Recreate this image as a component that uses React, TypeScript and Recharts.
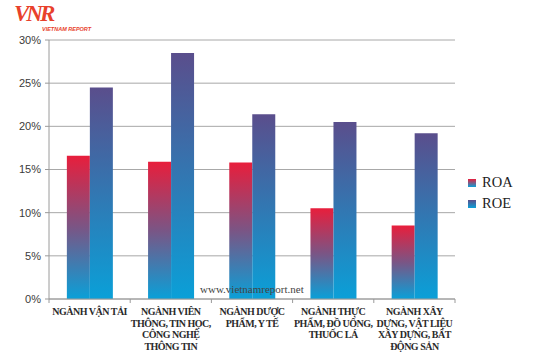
import { BarChart, Bar, XAxis, YAxis, CartesianGrid, Legend } from 'recharts';

// chart values (in %)
const categories = [
  'NGÀNH VẬN TẢI',
  'NGÀNH VIÊN\nTHÔNG, TIN HỌC,\nCÔNG NGHỆ\nTHÔNG TIN',
  'NGÀNH DƯỢC\nPHẨM, Y TẾ',
  'NGÀNH THỰC\nPHẨM, ĐỒ UỐNG,\nTHUỐC LÁ',
  'NGÀNH XÂY\nDỰNG, VẬT LIỆU\nXÂY DỰNG, BẤT\nĐỘNG SẢN'
];
const roa = [16.6, 15.9, 15.8, 10.5, 8.5];
const roe = [24.5, 28.5, 21.4, 20.5, 19.2];
const yTicks = [0, 5, 10, 15, 20, 25, 30];

const data = categories.map((name, i) => ({ name, ROA: roa[i], ROE: roe[i] }));

const W = 540;
const H = 360;
const MARGIN = { top: 40, right: 85, left: 0, bottom: 0 };
const Y_W = 49;
const X_H = 61;
const BAND = (W - MARGIN.right - Y_W) / categories.length;

const AXIS = '#9a9a9a';

function CategoryTick(props: any) {
  const { x, y, payload, index } = props;
  const lines = String(payload.value).split('\n');
  return (
    <g>
      <line x1={x - BAND / 2} y1={y} x2={x - BAND / 2} y2={y + 4} stroke={AXIS} />
      {index === categories.length - 1 && (
        <line x1={x + BAND / 2} y1={y} x2={x + BAND / 2} y2={y + 4} stroke={AXIS} />
      )}
      <text
        x={x}
        y={y + 16}
        textAnchor="middle"
        fill="#2b2b2b"
        fontFamily="'Liberation Serif', 'DejaVu Serif', serif"
        fontWeight="bold"
        fontSize={10}
        letterSpacing={-0.5}
      >
        {lines.map((l, i) => (
          <tspan key={i} x={x} dy={i === 0 ? 0 : 11.6}>
            {l}
          </tspan>
        ))}
      </text>
    </g>
  );
}

function LegendBox() {
  const items = [
    { name: 'ROA', grad: 'lgRoa', top: '#e81e3c', bot: '#0aa0d8' },
    { name: 'ROE', grad: 'lgRoe', top: '#5a4e8c', bot: '#0aa0d8' }
  ];
  return (
    <div style={{ fontFamily: "'Liberation Serif', serif", fontSize: 14.5, color: '#222' }}>
      {items.map((it) => (
        <div key={it.name} style={{ display: 'flex', alignItems: 'center', height: 21 }}>
          <svg width={8} height={8} style={{ marginRight: 6 }}>
            <defs>
              <linearGradient id={it.grad} x1="0" y1="0" x2="0" y2="1">
                <stop offset="0%" stopColor={it.top} />
                <stop offset="100%" stopColor={it.bot} />
              </linearGradient>
            </defs>
            <rect width={8} height={8} fill={`url(#${it.grad})`} />
          </svg>
          <span>{it.name}</span>
        </div>
      ))}
    </div>
  );
}

export default function App() {
  return (
    <div style={{ position: 'absolute', left: 0, top: 0, width: W, height: H, background: '#fff' }}>
      <BarChart width={W} height={H} data={data} margin={MARGIN} barCategoryGap="22%" barGap={0}>
        <defs>
          <linearGradient id="gRoa" x1="0" y1="0" x2="0" y2="1">
            <stop offset="0%" stopColor="#e81e3c" />
            <stop offset="50%" stopColor="#7a5585" />
            <stop offset="100%" stopColor="#0aa0d8" />
          </linearGradient>
          <linearGradient id="gRoe" x1="0" y1="0" x2="0" y2="1">
            <stop offset="0%" stopColor="#5a4e8c" />
            <stop offset="100%" stopColor="#0aa0d8" />
          </linearGradient>
        </defs>
        <CartesianGrid vertical={false} stroke="#a8a8a8" />
        <XAxis
          dataKey="name"
          height={X_H}
          interval={0}
          axisLine={{ stroke: AXIS }}
          tickLine={false}
          tickSize={0}
          tickMargin={0}
          tick={<CategoryTick />}
        />
        <YAxis
          width={Y_W}
          domain={[0, 30]}
          ticks={yTicks}
          tickFormatter={(v) => `${v}%`}
          axisLine={{ stroke: AXIS }}
          tickLine={{ stroke: AXIS }}
          tickSize={4}
          tickMargin={4}
          tick={{ fill: '#3a3a3a', fontSize: 11, fontFamily: "'Liberation Sans', Arial, sans-serif" }}
        />
        <Legend
          layout="vertical"
          align="center"
          verticalAlign="middle"
          content={<LegendBox />}
          wrapperStyle={{ left: 468, top: 172, width: 60 }}
        />
        <Bar dataKey="ROA" fill="url(#gRoa)" isAnimationActive={false} />
        <Bar dataKey="ROE" fill="url(#gRoe)" isAnimationActive={false} />
      </BarChart>
      <div
        style={{
          position: 'absolute',
          left: 200,
          top: 283,
          fontFamily: "'Liberation Serif', serif",
          fontSize: 11,
          color: '#444'
        }}
      >
        www.vietnamreport.net
      </div>
      <div style={{ position: 'absolute', left: 14, top: 2, color: '#e8412b' }}>
        <div
          style={{
            fontFamily: "'Liberation Serif', serif",
            fontStyle: 'italic',
            fontWeight: 'bold',
            fontSize: 23,
            lineHeight: '24px',
            letterSpacing: -3
          }}
        >
          VNR
        </div>
        <div
          style={{
            position: 'absolute',
            left: 28,
            top: 24,
            fontFamily: "'Liberation Sans', sans-serif",
            fontStyle: 'italic',
            fontWeight: 'bold',
            fontSize: 5.5,
            lineHeight: '6px',
            whiteSpace: 'nowrap'
          }}
        >
          VIETNAM REPORT
        </div>
      </div>
    </div>
  );
}
